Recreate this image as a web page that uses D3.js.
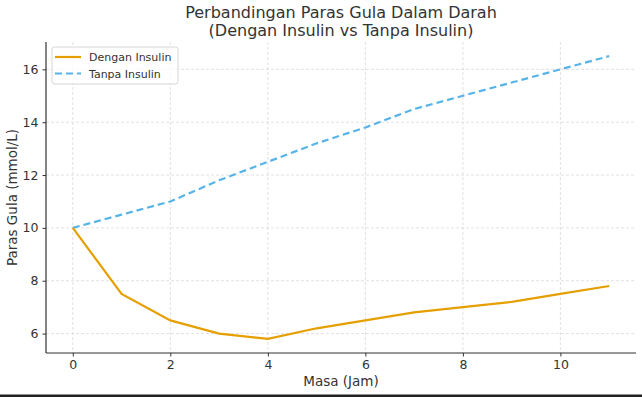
<!DOCTYPE html>
<html><head><meta charset="utf-8">
<script src="https://cdn.jsdelivr.net/npm/d3@7"></script>
<style>body{margin:0;background:#fff;} svg{display:block;font-family:"DejaVu Sans",sans-serif;}</style>
</head><body><svg id="c" width="642" height="397"></svg>
<script>
const hours = [0,1,2,3,4,5,6,7,8,9,10,11];
const denganInsulin = [10,7.5,6.5,6.0,5.8,6.2,6.5,6.8,7.0,7.2,7.5,7.8];
const tanpaInsulin = [10,10.5,11,11.8,12.5,13.2,13.8,14.5,15,15.5,16,16.5];
const xTicks = [0,2,4,6,8,10];
const yTicks = [6,8,10,12,14,16];
const seriesNames = ["Dengan Insulin","Tanpa Insulin"];

const svg = d3.select("#c");
const L=46, R=636, T=42, B=353;
const x = d3.scaleLinear().domain([-0.55,11.55]).range([L,R]);
const y = d3.scaleLinear().domain([5.265,17.035]).range([B,T]);

// grid
svg.append("g").selectAll("line").data(xTicks).join("line")
  .attr("x1",d=>x(d)).attr("x2",d=>x(d)).attr("y1",T).attr("y2",B)
  .attr("stroke","#d9d9d9").attr("stroke-width",0.8).attr("stroke-dasharray","3,2");
svg.append("g").selectAll("line").data(yTicks).join("line")
  .attr("y1",d=>y(d)).attr("y2",d=>y(d)).attr("x1",L).attr("x2",R)
  .attr("stroke","#d9d9d9").attr("stroke-width",0.8).attr("stroke-dasharray","3,2");

// axes
const xa = svg.append("g").attr("transform",`translate(0,${B})`)
  .call(d3.axisBottom(x).tickValues(xTicks).tickFormat(d3.format("d")).tickSize(3.5).tickPadding(4));
const ya = svg.append("g").attr("transform",`translate(${L},0)`)
  .call(d3.axisLeft(y).tickValues(yTicks).tickFormat(d3.format("d")).tickSize(3.5).tickPadding(4));
[xa,ya].forEach(a=>{
  a.select(".domain").attr("stroke","#333").attr("stroke-width",1.2);
  a.selectAll(".tick line").attr("stroke","#333");
  a.selectAll("text").attr("fill","#333").style("font-size","12.5px").style("font-family","DejaVu Sans");
});
xa.select(".domain").attr("d",`M${L},0H${R}`);
ya.select(".domain").attr("d",`M0,${T}V${B}`);

// lines
const line = d3.line().x((d,i)=>x(hours[i])).y(d=>y(d));
svg.append("path").datum(tanpaInsulin).attr("d",line).attr("fill","none")
  .attr("stroke","#56B4E9").attr("stroke-width",2.2).attr("stroke-dasharray","7,4");
svg.append("path").datum(denganInsulin).attr("d",line).attr("fill","none")
  .attr("stroke","#E69F00").attr("stroke-width",2.2);

// title
svg.append("text").attr("x",341).attr("y",18).attr("text-anchor","middle")
  .attr("fill","#333").style("font-size","16px").text("Perbandingan Paras Gula Dalam Darah");
svg.append("text").attr("x",341).attr("y",36).attr("text-anchor","middle")
  .attr("fill","#333").style("font-size","16px").text("(Dengan Insulin vs Tanpa Insulin)");

// axis labels
svg.append("text").attr("x",x(5.5)).attr("y",386).attr("text-anchor","middle")
  .attr("fill","#333").style("font-size","13.5px").text("Masa (Jam)");
svg.append("text").attr("transform",`translate(17,${(T+B)/2}) rotate(-90)`).attr("text-anchor","middle")
  .attr("fill","#333").style("font-size","13.5px").text("Paras Gula (mmol/L)");

// legend
const lg = svg.append("g").attr("transform","translate(52,47)");
lg.append("rect").attr("width",126).attr("height",37).attr("rx",2.5)
  .attr("fill","#fff").attr("fill-opacity",0.8).attr("stroke","#d6d6d6");
const colors=["#E69F00","#56B4E9"], dashes=[null,"7,4"];
seriesNames.forEach((n,i)=>{
  const yy = 10 + i*16.5;
  lg.append("line").attr("x1",3).attr("x2",29).attr("y1",yy).attr("y2",yy)
    .attr("stroke",colors[i]).attr("stroke-width",2.2).attr("stroke-dasharray",dashes[i]);
  lg.append("text").attr("x",37).attr("y",yy+4).attr("fill","#333").style("font-size","11px").text(n);
});

// bottom border
svg.append("rect").attr("x",0).attr("y",394.5).attr("width",642).attr("height",2.5).attr("fill","#222");
</script></body></html>
